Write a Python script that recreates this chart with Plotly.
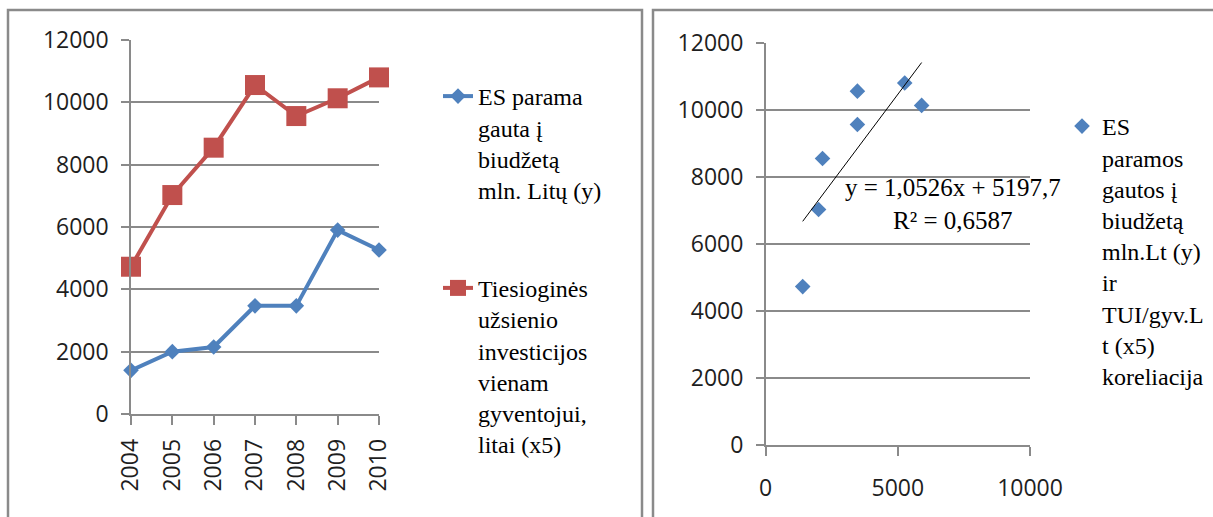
import plotly.graph_objects as go

# Data
years = ["2004", "2005", "2006", "2007", "2008", "2009", "2010"]
es_parama = [1400, 2000, 2150, 3470, 3470, 5900, 5260]          # ES parama, mln. Lt
tui_x5 = [4725, 7025, 8545, 10555, 9560, 10130, 10800]          # TUI / gyv., Lt (x5)
trend_slope = 1.0526
trend_intercept = 5197.7
r_squared = 0.6587

W, H = 1213, 517
BLUE = "#4F81BD"
RED = "#C0504D"
GRID = "#8a8a8a"
FRAME = "#8a8a8a"
TICK_FONT = dict(family="Open Sans", size=23, color="#1e1e1e")
LEGEND_FONT = dict(family="Liberation Serif", size=24, color="black")
EQ_FONT = dict(family="Liberation Serif", size=25, color="black")


def px_x(p):
    return p / W


def px_y(p):
    return 1 - p / H


def lt_num(v):
    return str(v).replace(".", ",")


fig = go.Figure()

# Left panel: two line series over years
fig.add_trace(go.Scatter(
    x=years, y=es_parama, mode="lines+markers",
    name="ES parama<br>gauta į<br>biudžetą<br>mln. Litų (y)",
    line=dict(color=BLUE, width=4),
    marker=dict(symbol="diamond", size=12, color=BLUE),
    cliponaxis=False, legend="legend", legendgroup="a",
    xaxis="x", yaxis="y",
))
fig.add_trace(go.Scatter(
    x=years, y=tui_x5, mode="lines+markers",
    name="Tiesioginės<br>užsienio<br>investicijos<br>vienam<br>gyventojui,<br>litai (x5)",
    line=dict(color=RED, width=4),
    marker=dict(symbol="square", size=20, color=RED),
    cliponaxis=False, legend="legend", legendgroup="b",
    xaxis="x", yaxis="y",
))

# Right panel: correlation scatter and linear trend
fig.add_trace(go.Scatter(
    x=es_parama, y=tui_x5, mode="markers",
    name="ES<br>paramos<br>gautos į<br>biudžetą<br>mln.Lt (y)<br>ir<br>TUI/gyv.L<br>t (x5)<br>koreliacija",
    marker=dict(symbol="diamond", size=12, color=BLUE),
    cliponaxis=False, legend="legend2",
    xaxis="x2", yaxis="y2",
))
trend_x = [min(es_parama), max(es_parama)]
trend_y = [trend_slope * v + trend_intercept for v in trend_x]
fig.add_trace(go.Scatter(
    x=trend_x, y=trend_y, mode="lines",
    line=dict(color="black", width=1),
    showlegend=False, hoverinfo="skip",
    xaxis="x2", yaxis="y2",
))

common_y = dict(
    range=[0, 12000], dtick=2000, tickformat="d",
    showgrid=True, gridcolor=GRID, gridwidth=1.5,
    showline=True, linecolor=GRID, linewidth=1.5,
    ticks="outside", ticklen=8, tickcolor=GRID, tickwidth=1.5,
    tickfont=TICK_FONT, zeroline=False, fixedrange=True,
    automargin=False,
)

fig.update_layout(
    width=W, height=H,
    margin=dict(l=0, r=0, t=0, b=0),
    paper_bgcolor="white", plot_bgcolor="white",
    showlegend=True,
    xaxis=dict(
        domain=[px_x(131), px_x(379)], anchor="y",
        type="category", range=[0, 6],
        showgrid=False, showline=True, linecolor=GRID, linewidth=1.5,
        ticks="outside", ticklen=9, tickcolor=GRID, tickwidth=1.5,
        tickangle=-90, tickfont=TICK_FONT, ticklabelstandoff=5,
        zeroline=False, fixedrange=True, automargin=False,
    ),
    yaxis=dict(domain=[px_y(414), px_y(40)], anchor="x",
               ticklabelstandoff=8, **common_y),
    xaxis2=dict(
        domain=[px_x(765.7), px_x(1030)], anchor="y2",
        range=[0, 10000], dtick=5000, tickformat="d",
        showgrid=False, showline=True, linecolor=GRID, linewidth=1.5,
        ticks="outside", ticklen=9, tickcolor=GRID, tickwidth=1.5,
        tickfont=TICK_FONT, ticklabelstandoff=13,
        zeroline=False, fixedrange=True, automargin=False,
    ),
    yaxis2=dict(domain=[px_y(445), px_y(42.7)], anchor="x2",
                ticklabelstandoff=8, **common_y),
    legend=dict(
        x=px_x(438), y=px_y(74), xanchor="left", yanchor="top",
        font=LEGEND_FONT, valign="top", tracegroupgap=64,
        traceorder="grouped", bgcolor="rgba(0,0,0,0)", borderwidth=0,
    ),
    legend2=dict(
        x=px_x(1062), y=px_y(104), xanchor="left", yanchor="top",
        font=LEGEND_FONT, valign="top", bgcolor="rgba(0,0,0,0)", borderwidth=0,
    ),
    annotations=[dict(
        x=7100, y=7200, xref="x2", yref="y2",
        text=f"y = {lt_num(trend_slope)}x + {lt_num(trend_intercept)}<br>"
             f"R² = {lt_num(r_squared)}",
        showarrow=False, align="center", font=EQ_FONT,
        xanchor="center", yanchor="middle",
    )],
    shapes=[
        dict(type="rect", xref="paper", yref="paper",
             x0=px_x(8), x1=px_x(642), y0=-0.1, y1=px_y(10),
             line=dict(color=FRAME, width=2.5)),
        dict(type="rect", xref="paper", yref="paper",
             x0=px_x(653), x1=1.1, y0=-0.1, y1=px_y(10),
             line=dict(color=FRAME, width=2.5)),
    ],
)

fig.write_html("out.html")
